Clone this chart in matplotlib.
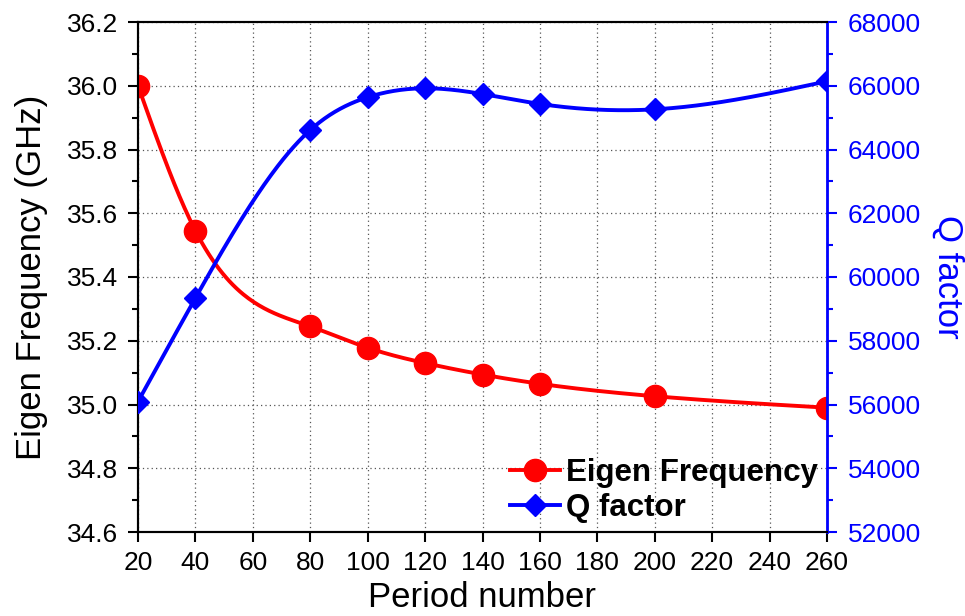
import matplotlib.pyplot as plt
import numpy as np

plt.rcParams['font.family'] = ['Liberation Sans', 'DejaVu Sans']

# data
period = [20, 40, 80, 100, 120, 140, 160, 200, 260]
eigen_freq = [36.0, 35.545, 35.245, 35.178, 35.13, 35.094, 35.065, 35.026, 34.99]
q_factor = [56090, 59340, 64610, 65640, 65920, 65740, 65430, 65260, 66140]


def spline(x, y, n=400):
    # natural cubic spline through the data points (smooth connecting line)
    x = np.asarray(x, float)
    y = np.asarray(y, float)
    k = len(x)
    h = np.diff(x)
    A = np.zeros((k, k))
    b = np.zeros(k)
    A[0, 0] = A[-1, -1] = 1
    for i in range(1, k - 1):
        A[i, i - 1] = h[i - 1]
        A[i, i] = 2 * (h[i - 1] + h[i])
        A[i, i + 1] = h[i]
        b[i] = 3 * ((y[i + 1] - y[i]) / h[i] - (y[i] - y[i - 1]) / h[i - 1])
    c = np.linalg.solve(A, b)
    xs = np.linspace(x[0], x[-1], n)
    j = np.clip(np.searchsorted(x, xs) - 1, 0, k - 2)
    dx = xs - x[j]
    bb = (y[j + 1] - y[j]) / h[j] - h[j] * (2 * c[j] + c[j + 1]) / 3
    d = (c[j + 1] - c[j]) / (3 * h[j])
    return xs, y[j] + bb * dx + c[j] * dx**2 + d * dx**3


fig, ax = plt.subplots(figsize=(9.65, 6.16), dpi=100)
fig.subplots_adjust(left=138/965, right=827/965, top=1-22/616, bottom=1-532/616)
ax2 = ax.twinx()

xs, ys = spline(period, eigen_freq)
ax.plot(xs, ys, color='red', lw=2.8, zorder=3)
ax.plot(period, eigen_freq, 'o', color='red', ms=16, zorder=4)
xs, qs = spline(period, q_factor)
ax2.plot(xs, qs, color='blue', lw=2.8, zorder=3)
ax2.plot(period, q_factor, 'D', color='blue', ms=11.5, zorder=4)

# legend handles
h1, = ax.plot([], [], '-o', color='red', lw=2.8, ms=16, label='Eigen Frequency')
h2, = ax.plot([], [], '-D', color='blue', lw=2.8, ms=11.5, label='Q factor')
ax2.legend(handles=[h1, h2], loc='lower right', frameon=False,
           prop={'weight': 'bold', 'size': 22.5}, handlelength=1.6,
           handletextpad=0.2, borderaxespad=0.0, labelspacing=0.15,
           borderpad=0.3)

ax.set_xlim(20, 260)
ax.set_xticks(np.arange(20, 261, 20))
ax.set_ylim(34.6, 36.2)
ax.set_yticks(np.arange(34.6, 36.21, 0.2))
ax.set_yticks(np.arange(34.7, 36.2, 0.2), minor=True)
ax.yaxis.set_major_formatter(plt.FormatStrFormatter('%.1f'))
ax2.set_ylim(52000, 68000)
ax2.set_yticks(np.arange(52000, 68001, 2000))
ax2.set_yticks(np.arange(53000, 68000, 2000), minor=True)

ax.grid(True, linestyle=(0, (1, 2.5)), color='#555555', lw=0.9)
ax.set_xlabel('Period number', fontsize=25, labelpad=4)
ax.set_ylabel('Eigen Frequency (GHz)', fontsize=25, labelpad=14)
ax2.set_ylabel('Q factor', fontsize=25, color='blue', rotation=270, labelpad=31)

ax.tick_params(axis='both', which='major', labelsize=19, width=1.5, length=7, pad=7, direction='out')
ax.tick_params(axis='y', which='minor', width=1.5, length=4, direction='out')
ax2.tick_params(axis='y', which='major', labelsize=19, width=1.5, length=7, pad=8, colors='blue')
ax2.tick_params(axis='y', which='minor', width=1.5, length=4, colors='blue')

for s in ['left', 'bottom', 'top']:
    ax.spines[s].set_linewidth(1.5)
    ax2.spines[s].set_linewidth(1.5)
ax2.spines['right'].set_color('blue')
ax2.spines['right'].set_linewidth(2)

plt.savefig('out.png', dpi=100)
